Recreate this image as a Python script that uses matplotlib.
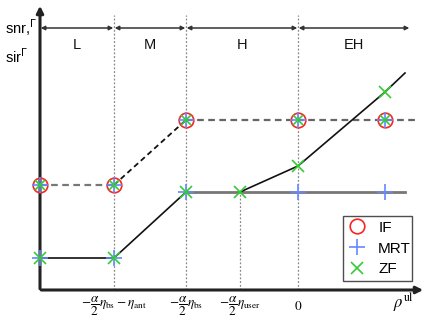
import matplotlib
matplotlib.use("Agg")
import matplotlib.pyplot as plt
from matplotlib.lines import Line2D

# x positions of regime boundaries (chart units) and tick labels
tick_x = [74, 146, 200, 258]
tick_labels = [r'$-\dfrac{\alpha}{2}\eta_{\rm bs}-\eta_{\rm ant}$',
               r'$-\dfrac{\alpha}{2}\eta_{\rm bs}$',
               r'$-\dfrac{\alpha}{2}\eta_{\rm user}$',
               r'$0$']
regions = ['L', 'M', 'H', 'EH']
region_edges = [0, 74, 146, 258, 370]

# IF curve (dashed)
if_x = [0, 74, 146, 258, 345, 378]
if_y = [105, 105, 170, 170, 170, 170]
if_mark_x = [0, 74, 146, 258, 345]
if_mark_y = [105, 105, 170, 170, 170]

# MRT curve
mrt_x = [0, 74, 146, 200, 258, 345, 365]
mrt_y = [32, 32, 98, 98, 98, 98, 98]
mrt_mark_x = [0, 74, 146, 258, 345]
mrt_mark_y = [32, 32, 98, 98, 98]

# ZF curve
zf_x = [200, 258, 345, 365]
zf_y = [98, 124, 198, 217]
zf_mark_x = [0, 74, 146, 200, 258, 345]
zf_mark_y = [32, 32, 98, 98, 124, 198]

# extra markers on IF points (overlay of + and x)
ov_x = [0, 74, 146, 258, 345]
ov_y = [105, 105, 170, 170, 170]

fig = plt.figure(figsize=(4.36, 3.21), dpi=100)
ax = fig.add_axes([0, 0, 1, 1])
ax.set_xlim(-40, 396)
ax.set_ylim(-31, 290)
ax.axis('off')

# vertical dotted guide lines
for xv in [74, 146, 258]:
    ax.plot([xv, xv], [0, 275], color='#888888', lw=0.9, ls=(0, (1.5, 1.5)), zorder=1)
ax.plot([200, 200], [0, 98], color='#888888', lw=0.9, ls=(0, (1.5, 1.5)), zorder=1)

# axes arrows
ax.annotate('', xy=(0, 287), xytext=(0, -1.5),
            arrowprops=dict(arrowstyle='-|>', color='#222222', lw=2.2, mutation_scale=10))
ax.annotate('', xy=(386, 0), xytext=(-1.5, 0),
            arrowprops=dict(arrowstyle='-|>', color='#222222', lw=2.2, mutation_scale=10))

# region arrows
ry = 262
for i in range(len(regions)):
    a, b = region_edges[i], region_edges[i + 1]
    ax.annotate('', xy=(b, ry), xytext=(a, ry),
                arrowprops=dict(arrowstyle='<|-|>', color='#333333', lw=1.1,
                                mutation_scale=6, shrinkA=0.5, shrinkB=0.5))
    ax.text((a + b) / 2, 245, regions[i], ha='center', va='center', fontsize=10.5,
            family='Liberation Sans', color='#111111')

# lines
ax.plot(if_x[:2], if_y[:2], color='#777777', lw=1.6, ls=(0, (3, 2)), zorder=2)
ax.plot(if_x[1:3], if_y[1:3], color='#111111', lw=1.3, ls=(0, (3, 2)), zorder=2)
ax.plot(if_x[2:], if_y[2:], color='#666666', lw=1.6, ls=(0, (3, 2)), zorder=2)

ax.plot(mrt_x[:3], mrt_y[:3], color='#111111', lw=1.2, zorder=2)
ax.plot(mrt_x[2:], mrt_y[2:], color='#777777', lw=2.0, zorder=2)
ax.plot(zf_x, zf_y, color='#111111', lw=1.2, zorder=2)

# markers
ms_o, ms_p, ms_x = 10.5, 11, 8.5
ax.plot(if_mark_x, if_mark_y, 'o', mfc='none', mec='#ff2222', ms=ms_o, mew=1.2, zorder=5)
ax.plot(ov_x, ov_y, '+', color='#6688ff', ms=ms_p, mew=1.2, zorder=5)
ax.plot(ov_x, ov_y, 'x', color='#33cc33', ms=ms_x * 0.9, mew=1.2, zorder=6)
ax.plot(mrt_mark_x, mrt_mark_y, '+', color='#6688ff', ms=ms_p, mew=1.2, zorder=5)
ax.plot(zf_mark_x, zf_mark_y, 'x', color='#33cc33', ms=ms_x, mew=1.2, zorder=6)

# tick labels
for xv, lab in zip(tick_x, tick_labels):
    ax.text(xv, -16, lab, ha='center', va='center', fontsize=9.5,
            math_fontfamily='stix')
ax.text(364, -12, r'$\rho^{\rm ul}$', ha='center', va='center', fontsize=12,
        math_fontfamily='stix')

# y label
ax.text(-35, 262, r'snr,$^{\Gamma}$', ha='left', va='center', fontsize=10.5, family='Liberation Sans')
ax.text(-35, 233, r'sir$^{\Gamma}$', ha='left', va='center', fontsize=10.5, family='Liberation Sans')

# legend
handles = [Line2D([], [], ls='none', marker='o', mfc='none', mec='#ff2222', ms=ms_o, mew=1.2),
           Line2D([], [], ls='none', marker='+', color='#6688ff', ms=ms_p, mew=1.2),
           Line2D([], [], ls='none', marker='x', color='#33cc33', ms=ms_x, mew=1.2)]
leg = ax.legend(handles, ['IF', 'MRT', 'ZF'], loc='lower left',
                bbox_to_anchor=(343 / 436, (321 - 281) / 321, 69 / 436, 72 / 321),
                mode='expand', frameon=True, fancybox=False, edgecolor='#222222',
                prop={'family': 'Liberation Sans', 'size': 11}, handlelength=1.2,
                handletextpad=0.8, borderpad=0.3, labelspacing=0.45, borderaxespad=0)
leg.get_frame().set_linewidth(1.0)

fig.savefig('out.png', dpi=100)
